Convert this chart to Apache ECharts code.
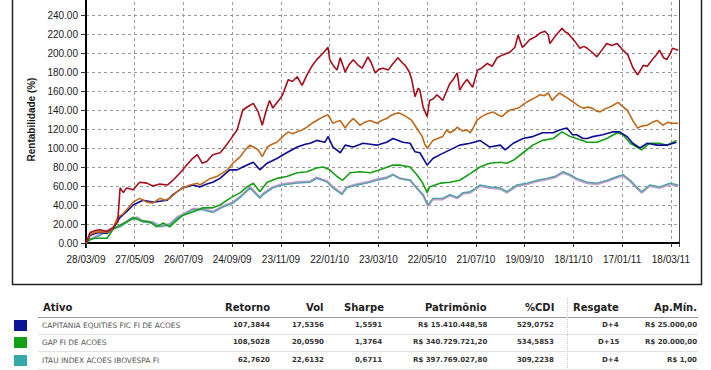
<!DOCTYPE html>
<html>
<head>
<meta charset="utf-8">
<script src="https://cdn.jsdelivr.net/npm/echarts@6/dist/echarts.min.js"></script>
<style>
html,body{margin:0;padding:0;background:#fff;}
#wrap{position:relative;width:711px;height:370px;overflow:hidden;}
#chart{position:absolute;left:0;top:0;width:711px;height:370px;}
#table{position:absolute;left:0;top:0;width:711px;height:370px;font-family:"DejaVu Sans",Verdana,sans-serif;}
.t{position:absolute;white-space:nowrap;line-height:1;}
.h{font-weight:bold;font-size:10px;color:#222;}
.n{font-weight:bold;font-size:7px;color:#333;}
.f{font-size:7.4px;color:#555;}
</style>
</head>
<body>
<div id="wrap">
<div id="chart"></div>
<div id="table"></div>
</div>
<script>
// ---- x tick labels (one every 60 days from 28/03/09) ----
const tickLabels = ['28/03/09','27/05/09','26/07/09','24/09/09','23/11/09','22/01/10','23/03/10','22/05/10','21/07/10','19/09/10','18/11/10','17/01/11','18/03/11'];

// ---- series data: [day since 28/03/09, rentabilidade %] ----
const redSeries = [[0,0],[5,11],[11,13],[17,14],[26,12],[33,16],[39,22],[42,58],[46,53],[50,58],[58,56],[66,64],[75,63],[82,60],[91,62],[100,61],[107,66],[116,74],[124,82],[130,88],[137,93],[143,84],[149,86],[156,93],[165,95],[171,101],[177,108],[186,119],[193,140],[202,145],[206,147],[212,138],[217,124],[222,140],[226,150],[230,142],[239,152],[242,156],[249,172],[254,170],[260,175],[266,166],[272,177],[278,186],[284,193],[292,200],[298,206],[300,193],[305,186],[309,182],[313,195],[319,180],[324,188],[329,193],[335,187],[340,184],[347,196],[351,190],[356,179],[361,183],[366,184],[372,182],[378,189],[384,195],[389,190],[393,187],[398,180],[401,172],[405,154],[409,163],[411,161],[415,143],[420,133],[423,150],[428,152],[432,156],[436,153],[439,150],[444,160],[448,168],[452,172],[457,179],[460,161],[465,168],[469,172],[476,164],[482,182],[487,184],[494,189],[500,186],[506,195],[513,198],[522,201],[528,206],[532,219],[537,206],[542,210],[546,214],[553,217],[559,221],[565,223],[569,219],[571,210],[577,217],[586,226],[590,222],[593,221],[598,216],[602,212],[608,205],[613,207],[617,205],[624,200],[629,196],[635,203],[641,210],[647,208],[654,210],[661,203],[667,198],[673,185],[679,177],[686,187],[691,186],[697,193],[702,198],[706,203],[711,195],[715,193],[719,199],[722,205],[729,203]];

const orangeSeries = [[0,0],[5,9],[11,11],[17,12],[26,11],[33,15],[39,27],[46,31],[50,35],[58,43],[66,47],[75,43],[82,42],[91,47],[97,45],[103,47],[112,54],[119,58],[128,61],[137,63],[140,61],[146,64],[153,68],[161,70],[167,73],[174,77],[181,84],[190,91],[196,98],[202,103],[208,100],[212,98],[217,91],[223,101],[229,104],[235,106],[242,112],[249,117],[254,115],[260,117],[266,119],[272,122],[278,126],[284,129],[292,133],[298,135],[304,126],[309,128],[313,129],[319,121],[324,127],[329,131],[334,127],[337,124],[343,127],[350,129],[358,126],[364,129],[370,131],[375,134],[380,136],[385,137],[390,135],[396,132],[401,129],[407,121],[414,112],[417,104],[420,100],[423,103],[427,108],[433,110],[439,112],[444,119],[448,116],[454,119],[457,122],[463,118],[469,119],[473,116],[476,120],[481,129],[487,133],[494,136],[501,138],[507,135],[512,133],[517,137],[522,140],[528,141],[534,143],[540,147],[546,150],[553,153],[559,156],[564,155],[569,158],[574,150],[578,154],[583,158],[588,155],[592,153],[597,150],[602,147],[607,144],[612,142],[618,143],[623,142],[628,139],[633,138],[638,141],[642,142],[649,145],[655,148],[660,144],[666,140],[670,134],[673,129],[677,124],[679,121],[684,123],[691,124],[697,127],[703,129],[710,124],[716,127],[722,126],[729,126]];

const capitaniaSeries = [[0,0],[5,8],[11,10],[17,11],[26,10],[33,15],[42,27],[50,33],[58,40],[70,45],[82,43],[91,44],[100,45],[107,51],[119,58],[132,61],[140,59],[149,62],[156,64],[165,68],[177,77],[186,77],[193,80],[206,85],[214,77],[223,84],[235,89],[247,95],[260,101],[270,104],[276,105],[284,108],[294,106],[298,112],[304,101],[313,95],[319,103],[329,101],[341,105],[350,104],[358,103],[370,106],[378,110],[390,106],[399,105],[405,96],[411,95],[420,82],[427,89],[436,93],[448,98],[460,103],[473,105],[485,108],[497,101],[510,103],[516,98],[526,105],[538,110],[550,112],[562,116],[575,116],[583,119],[592,121],[599,114],[604,114],[612,110],[617,110],[624,112],[636,114],[649,117],[657,117],[666,112],[673,105],[682,100],[691,105],[703,103],[715,103],[727,106]];

const gapSeries = [[0,0],[5,4],[11,5],[17,5],[26,5],[33,14],[42,19],[50,22],[58,27],[66,24],[79,22],[87,17],[95,21],[103,17],[112,24],[119,29],[132,33],[144,37],[156,37],[165,40],[177,47],[190,53],[198,59],[206,63],[214,54],[223,64],[235,68],[247,70],[260,74],[272,75],[284,79],[292,80],[300,77],[309,70],[316,66],[325,74],[337,75],[350,74],[362,77],[378,82],[386,82],[399,80],[407,72],[414,64],[420,53],[423,59],[436,63],[448,64],[460,66],[473,73],[485,80],[497,84],[510,85],[518,84],[526,87],[538,95],[550,103],[562,108],[575,110],[586,117],[596,112],[604,110],[617,106],[629,106],[641,110],[654,116],[661,114],[670,105],[678,101],[684,98],[694,105],[706,105],[715,103],[727,108]];

const itauSeries = [[0,0],[5,3],[17,8],[30,14],[42,17],[54,24],[63,26],[70,22],[82,21],[91,17],[103,19],[112,26],[119,29],[132,35],[144,35],[156,32],[169,38],[181,42],[190,48],[202,58],[214,47],[218,51],[230,58],[242,61],[260,63],[276,64],[284,68],[297,64],[304,58],[315,51],[321,58],[334,61],[346,63],[358,66],[370,68],[378,72],[386,68],[399,66],[407,58],[415,51],[421,40],[427,47],[439,47],[448,51],[457,48],[464,53],[473,54],[485,61],[497,59],[510,58],[518,54],[530,61],[543,63],[555,66],[567,68],[577,70],[587,75],[596,72],[604,68],[617,64],[629,63],[641,66],[654,70],[661,72],[670,66],[678,59],[684,54],[694,61],[706,59],[719,63],[729,61]];

const iboSeries = [[0,0],[5,4],[17,9],[30,15],[42,18],[54,25],[63,27],[70,23],[82,22],[91,18],[103,20],[112,27],[119,30],[132,36],[144,36],[156,33],[169,39],[181,43],[190,49],[202,59],[214,48],[218,52],[230,59],[242,62],[260,64],[276,65],[284,69],[297,65],[304,59],[315,52],[321,59],[334,62],[346,64],[358,67],[370,69],[378,72],[386,68],[399,66],[407,58],[415,50],[421,39],[427,46],[439,46],[448,50],[457,47],[464,52],[473,53],[485,60],[497,58],[510,57],[518,53],[530,60],[543,62],[555,65],[567,67],[577,69],[587,74],[596,71],[604,67],[617,63],[629,62],[641,65],[654,69],[661,71],[670,65],[678,58],[684,53],[694,60],[706,58],[719,62],[729,60]];

// ---- table ----
const fundNames = ['CAPITANIA EQUITIES FIC FI DE ACOES','GAP FI DE ACOES','ITAU INDEX ACOES IBOVESPA FI'];
const fundColors = ['#0c1496','#14a014','#36a9a9'];
const retorno = ['107,3844','108,5028','62,7620'];
const vol = ['17,5356','20,0590','22,6132'];
const sharpe = ['1,5591','1,3764','0,6711'];
const patrimonio = ['R$ 15.410.448,58','R$ 340.729.721,20','R$ 397.769.027,80'];
const cdi = ['529,0752','534,5853','309,2238'];
const resgate = ['D+4','D+15','D+4'];
const apMin = ['R$ 25.000,00','R$ 20.000,00','R$ 1,00'];
const headers = ['Ativo','Retorno','Vol','Sharpe','Patrimônio','%CDI','Resgate','Ap.Mín.'];

const chart = echarts.init(document.getElementById('chart'), null, {renderer:'svg', width:711, height:370});
const lineS = (name, data, color, w, z) => ({
  name, type:'line', data, showSymbol:false, symbol:'none', z,
  lineStyle:{color, width:w}, itemStyle:{color}, silent:true
});
const axFont = {color:'#1a1a1a', fontSize:10, fontFamily:'"Liberation Sans", Arial, sans-serif'};
chart.setOption({
  animation:false,
  backgroundColor:'#fff',
  grid:{left:86, right:32, top:-4, bottom:127, containLabel:false, outerBoundsMode:'none'},
  xAxis:{
    type:'value', min:0, max:730, interval:60, offset:4,
    axisLine:{lineStyle:{color:'#000', width:2}},
    axisTick:{show:true, length:4, lineStyle:{color:'#333'}},
    axisLabel:Object.assign({margin:7, showMaxLabel:false, formatter:v => (v % 60 === 0 && tickLabels[v/60]) ? tickLabels[v/60] : ''}, axFont),
    splitLine:{show:true, lineStyle:{color:'#9a9a9a', type:[3,3], width:1}}
  },
  yAxis:[{
    type:'value', min:0, max:260, interval:20, position:'left',
    name:'Rentabilidade (%)', nameLocation:'middle', nameGap:40, nameRotate:90,
    nameTextStyle:{fontWeight:'bold', fontSize:10, color:'#1a1a1a', fontFamily:'"Liberation Sans", Arial, sans-serif'},
    axisLine:{show:true, lineStyle:{color:'#000', width:2}},
    axisTick:{show:true, length:5, lineStyle:{color:'#333'}},
    axisLabel:Object.assign({margin:8, formatter:v => v.toFixed(2)}, axFont),
    splitLine:{show:true, lineStyle:{color:'#9a9a9a', type:[3,3], width:1}}
  },{
    type:'value', min:0, max:260, interval:20, position:'right',
    axisLine:{show:true, lineStyle:{color:'#444', width:1}},
    axisTick:{show:false}, axisLabel:{show:false}, splitLine:{show:false}
  }],
  series:[
    lineS('IBOV', iboSeries, '#c29ccc', 2.2, 1),
    lineS('ITAU', itauSeries, '#4fa3a6', 1.4, 2),
    lineS('GAP', gapSeries, '#14a014', 1.6, 3),
    lineS('CAPITANIA', capitaniaSeries, '#0c0c92', 1.6, 4),
    lineS('Orange', orangeSeries, '#c0691c', 1.6, 5),
    lineS('Red', redSeries, '#a50f1c', 1.6, 6)
  ],
  graphic:[
    {type:'rect', shape:{x:12.5, y:-10, width:689, height:294.5}, style:{fill:'none', stroke:'#222', lineWidth:1.5}, silent:true},
    {type:'line', shape:{x1:86, y1:242, x2:86, y2:248}, style:{stroke:'#000', lineWidth:2}, silent:true},
    {type:'line', shape:{x1:679.5, y1:242, x2:679.5, y2:247}, style:{stroke:'#444', lineWidth:1}, silent:true}
  ]
});

// ---- build table (HTML text) ----
const tbl = document.getElementById('table');
function put(text, cls, x, y, align){
  const d = document.createElement('div');
  d.className = 't ' + cls;
  d.textContent = text;
  tbl.appendChild(d);
  const w = d.offsetWidth, h = d.offsetHeight;
  d.style.left = (align === 'right' ? x - w : x) + 'px';
  d.style.top = (y - h/2) + 'px';
}
function box(x, y, w, h, bg, extra){
  const d = document.createElement('div');
  d.style.cssText = 'position:absolute;left:'+x+'px;top:'+y+'px;width:'+w+'px;height:'+h+'px;background:'+bg+';'+(extra||'');
  tbl.appendChild(d);
}
const colRight = [null, 270, 324, 384, 487, 554, 619, 697];
const headY = 307.5;
put(headers[0], 'h', 43, headY, 'left');
for (let i = 1; i < headers.length; i++) put(headers[i], 'h', colRight[i], headY, 'right');
box(38, 317, 660, 1, '#9a9a9a');
box(567, 299, 0, 71, 'transparent', 'border-left:1px dotted #c8c8c8;');
const rowY = [325.5, 342.5, 360];
const sqY = [320, 337, 355];
const cols = [retorno, vol, sharpe, patrimonio, cdi, resgate, apMin];
for (let r = 0; r < 3; r++){
  box(14, sqY[r], 13, 11, fundColors[r]);
  put(fundNames[r], 'f', 42, rowY[r], 'left');
  for (let c = 0; c < cols.length; c++) put(cols[c][r], 'n', colRight[c+1] - (c===2?2:0), rowY[r], 'right');
  box(38, [333.5, 351, 368.5][r], 660, 1, '#e2e2e2');
}
</script>
</body>
</html>
